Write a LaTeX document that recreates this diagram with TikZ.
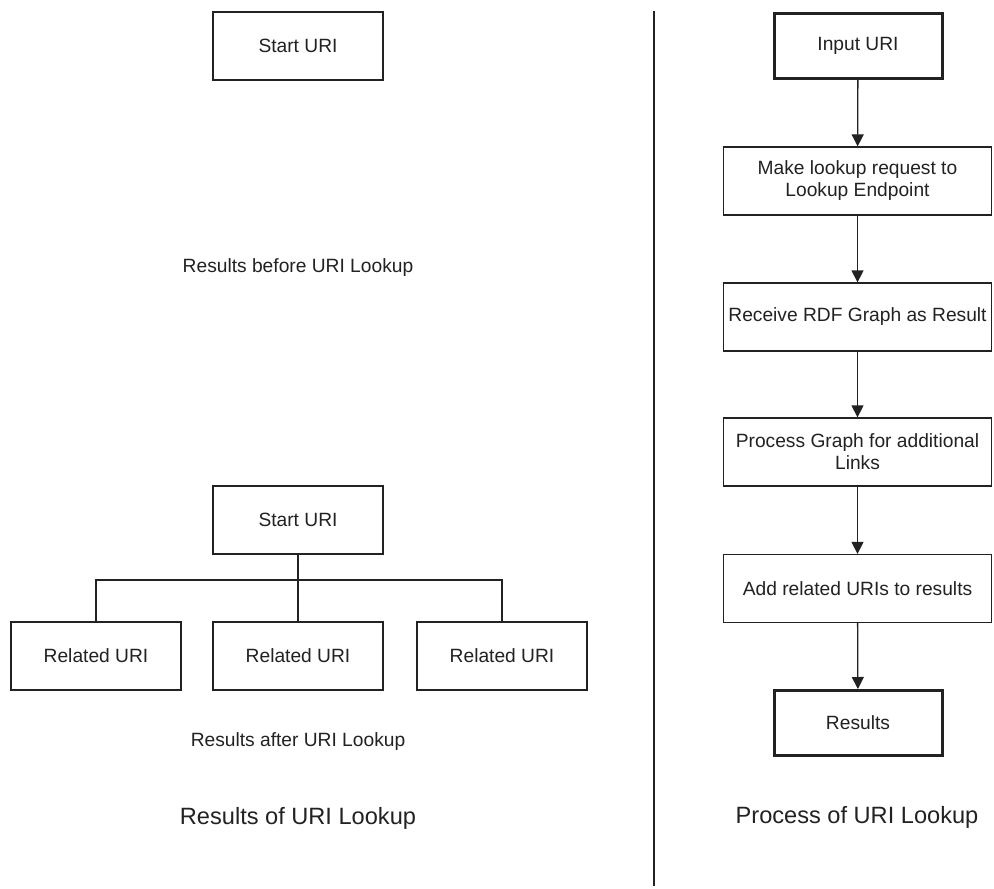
\documentclass[tikz,border=0pt]{standalone}
\usepackage{fontspec}
\setmainfont{Liberation Sans}
\usetikzlibrary{arrows.meta}
\definecolor{ink}{HTML}{222222}
\begin{document}
\begin{tikzpicture}[x=1pt,y=-1pt,
  every node/.style={text=ink, font=\fontsize{19.2}{22}\selectfont},
  box/.style={draw=ink, line width=1.3pt, inner sep=0pt, minimum width=170pt, minimum height=68pt, align=center},
  widebox/.style={box, minimum width=268pt},
  thickbox/.style={box, line width=3pt, minimum width=168pt, minimum height=65pt},
  link/.style={draw=ink, line width=1.3pt},
  arrow/.style={link, -{Triangle[length=12pt,width=12pt]}},
  title/.style={font=\fontsize{23.6}{28}\selectfont}]
\useasboundingbox[fill=white] (0,0) rectangle (994,889);

% divider
\coordinate (dtop) at (654,11);
\coordinate (dbot) at (654,886);
\draw[link] (dtop) -- (dbot);

% left: results
\node[box] (s1) at (298,46) {Start URI};
\node (before) at (298,268) {Results before URI Lookup};
\node[box] (s2) at (298,520) {Start URI};
\node[box] (r1) at (96,656) {Related URI};
\node[box] (r2) at (298,656) {Related URI};
\node[box] (r3) at (502,656) {Related URI};
\coordinate (bar) at (298,580);
\draw[link] (s2) -- (r2);
\draw[link] (r1.north) |- (bar) -| (r3.north);
\node (after) at (298,742) {Results after URI Lookup};
\node[title] (t1) at (298,818) {Results of URI Lookup};

% right: process
\node[thickbox] (in) at (858,45.5) {Input URI};
\node[widebox] (p1) at (857.5,181) {Make lookup request to\\Lookup Endpoint};
\node[widebox] (p2) at (857.5,317) {Receive RDF Graph as Result};
\node[widebox] (p3) at (857.5,452) {Process Graph for additional\\Links};
\node[widebox] (p4) at (857.5,588.5) {Add related URIs to results};
\node[thickbox] (res) at (858,723) {Results};
\draw[arrow] (in) -- (p1);
\draw[arrow] (p1) -- (p2);
\draw[arrow] (p2) -- (p3);
\draw[arrow] (p3) -- (p4);
\draw[arrow] (p4) -- (res);
\node[title] (t2) at (857,817) {Process of URI Lookup};
\end{tikzpicture}
\end{document}
